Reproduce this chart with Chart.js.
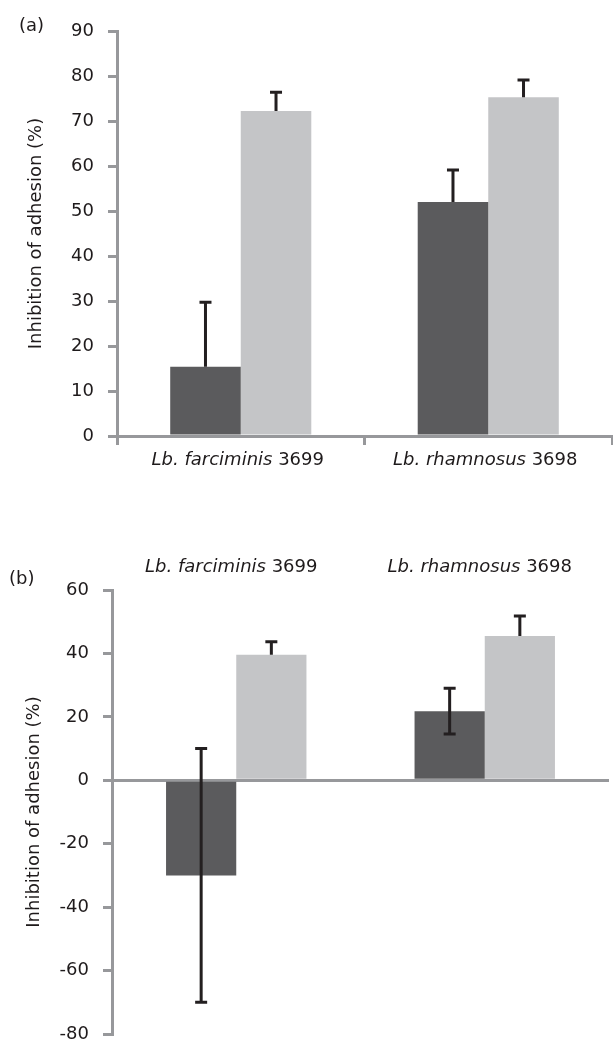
<!DOCTYPE html>
<html>
<head>
<meta charset="utf-8">
<title>Inhibition of adhesion</title>
<script src="https://cdn.jsdelivr.net/npm/chart.js@4.4.1/dist/chart.umd.min.js"></script>
<style>
  html, body { margin: 0; padding: 0; background: #fff; overflow: hidden; }
  body { width: 613px; height: 1043px; position: relative; }
  .panel { position: absolute; left: 0; width: 613px; }
  #panelA { top: 0; height: 480px; }
  #panelB { top: 490px; height: 600px; }
</style>
</head>
<body>
<div class="panel" id="panelA"><canvas id="chartA"></canvas></div>
<div class="panel" id="panelB"><canvas id="chartB"></canvas></div>
<script>
// Strains (species name is set in italics, strain number upright)
const speciesNames = ['Lb. farciminis', 'Lb. rhamnosus'];
const strainIds = ['3699', '3698'];

// Panel (a)
const darkA = [15.4, 52.0];
const darkErrA = [14.3, 7.1];
const lightA = [72.2, 75.3];
const lightErrA = [4.2, 3.8];
const ticksA = [0, 90, 10]; // min, max, step

// Panel (b)
const darkB = [-30, 21.8];
const darkErrB = [40, 7.2];
const lightB = [39.6, 45.5];
const lightErrB = [4.1, 6.3];
const ticksB = [-80, 60, 20];

const DARK = '#5b5b5d';
const LIGHT = '#c4c5c7';
const AXIS = '#97989b';
const INK = '#1e1a1b';
const FONT = "'DejaVu Sans', sans-serif";

const categories = speciesNames.map((s, i) => s + ' ' + strainIds[i]);

// Error bars: 'up' draws only the upper whisker, 'both' draws both
const errorBars = {
    id: 'errorBars',
    afterDatasetsDraw(chart) {
        const ctx = chart.ctx;
        const yScale = chart.scales.y;
        ctx.save();
        ctx.strokeStyle = '#231f20';
        ctx.lineWidth = 3;
        chart.data.datasets.forEach((ds, di) => {
            const meta = chart.getDatasetMeta(di);
            meta.data.forEach((bar, i) => {
                const v = ds.data[i];
                const e = ds.errors[i];
                const yTop = yScale.getPixelForValue(v + e);
                const yBot = ds.errorMode === 'both' ? yScale.getPixelForValue(v - e) : bar.y;
                ctx.beginPath();
                ctx.moveTo(bar.x, yTop);
                ctx.lineTo(bar.x, yBot);
                ctx.moveTo(bar.x - 6, yTop);
                ctx.lineTo(bar.x + 6, yTop);
                if (ds.errorMode === 'both') {
                    ctx.moveTo(bar.x - 6, yBot);
                    ctx.lineTo(bar.x + 6, yBot);
                }
                ctx.stroke();
            });
        });
        ctx.restore();
    }
};

// Category labels with italic species name and upright strain number
const strainLabels = {
    id: 'strainLabels',
    afterDraw(chart, args, opts) {
        const ctx = chart.ctx;
        const xScale = chart.scales.x;
        ctx.save();
        ctx.fillStyle = INK;
        ctx.textBaseline = 'middle';
        ctx.textAlign = 'left';
        speciesNames.forEach((name, i) => {
            const italic = 'italic 18px ' + FONT;
            const upright = '18px ' + FONT;
            ctx.font = italic;
            const w1 = ctx.measureText(name + ' ').width;
            ctx.font = upright;
            const w2 = ctx.measureText(strainIds[i]).width;
            const x0 = xScale.getPixelForValue(i) - (w1 + w2) / 2 + opts.shift;
            ctx.font = italic;
            ctx.fillText(name + ' ', x0, opts.y);
            ctx.font = upright;
            ctx.fillText(strainIds[i], x0 + w1, opts.y);
        });
        // panel letter
        ctx.font = '18px ' + FONT;
        ctx.fillText(opts.letter, opts.letterX, opts.letterY);
        ctx.restore();
    }
};

function makeDatasets(dark, darkErr, light, lightErr, darkMode, pct) {
    return [{
        data: dark,
        errors: darkErr,
        errorMode: darkMode,
        backgroundColor: DARK,
        borderWidth: 0,
        categoryPercentage: pct,
        barPercentage: 1.0
    }, {
        data: light,
        errors: lightErr,
        errorMode: 'up',
        backgroundColor: LIGHT,
        borderWidth: 0,
        categoryPercentage: pct,
        barPercentage: 1.0
    }];
}

function yAxis(range, width, titlePad, zeroLine) {
    return {
        min: range[0],
        max: range[1],
        afterFit: function(scale) { scale.width = width; },
        border: { color: AXIS, width: 3 },
        grid: {
            drawOnChartArea: zeroLine,
            color: ctx => (zeroLine && ctx.tick && ctx.tick.value === 0) ? AXIS : 'rgba(0,0,0,0)',
            tickColor: AXIS,
            tickLength: 9,
            lineWidth: 3
        },
        ticks: {
            stepSize: range[2],
            color: INK,
            padding: 14,
            font: { family: FONT, size: 18 }
        },
        title: {
            display: true,
            text: 'Inhibition of adhesion (%)',
            color: INK,
            font: { family: FONT, size: 18 },
            padding: { top: titlePad, bottom: 0 }
        }
    };
}

Chart.defaults.animation = false;
Chart.defaults.responsive = true;
Chart.defaults.maintainAspectRatio = false;

// (a) both strains, bars rising from zero
new Chart(document.getElementById('chartA'), {
    type: 'bar',
    data: {
        labels: categories,
        datasets: makeDatasets(darkA, darkErrA, lightA, lightErrA, 'up', 0.57)
    },
    options: {
        layout: { padding: { top: 31, right: 1, left: 0, bottom: 0 } },
        plugins: {
            legend: { display: false },
            tooltip: { enabled: false },
            strainLabels: { y: 460, shift: -3, letter: '(a)', letterX: 19, letterY: 26 }
        },
        scales: {
            x: {
                afterFit: function(scale) { scale.height = 44; },
                border: { color: AXIS, width: 3 },
                grid: {
                    offset: true,
                    drawOnChartArea: false,
                    color: AXIS,
                    tickLength: 9,
                    lineWidth: 3
                },
                ticks: { display: false }
            },
            y: yAxis(ticksA, 117, 26, false)
        }
    },
    plugins: [errorBars, strainLabels]
});

// (b) same strains, zero line across the plot, labels above
new Chart(document.getElementById('chartB'), {
    type: 'bar',
    data: {
        labels: categories,
        datasets: makeDatasets(darkB, darkErrB, lightB, lightErrB, 'both', 0.565)
    },
    options: {
        layout: { padding: { top: 100, right: 4, left: 0, bottom: 56 } },
        plugins: {
            legend: { display: false },
            tooltip: { enabled: false },
            strainLabels: { y: 77, shift: -5, letter: '(b)', letterX: 9, letterY: 89 }
        },
        scales: {
            x: {
                display: false
            },
            y: yAxis(ticksB, 112, 24, true)
        }
    },
    plugins: [errorBars, strainLabels]
});
</script>
</body>
</html>
